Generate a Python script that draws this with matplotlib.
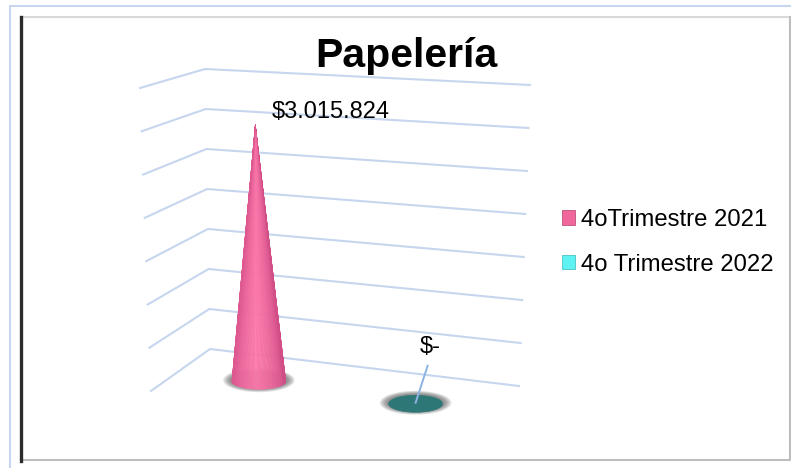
import numpy as np
import matplotlib
matplotlib.use("Agg")
import matplotlib.pyplot as plt
from matplotlib.patches import Ellipse, Polygon, Patch
from matplotlib.colors import to_rgb

# chart data
categories = ['4oTrimestre 2021', '4o Trimestre 2022']
values = [3015824, 0]
series_colors = ['#f0679b', '#5ef2f2']
title = 'Papelería'
y_ticks = np.arange(0, 3500001, 500000)
y_max = y_ticks[-1]

plt.rcParams['font.family'] = ['Liberation Sans', 'DejaVu Sans']

fig = plt.figure(figsize=(7.91, 4.68), dpi=100)
ax = fig.add_axes([0, 0, 1, 1])
ax.set_xlim(0, 791)
ax.set_ylim(468, 0)
ax.axis('off')

# screen corners of the 3-D plot box (b/f = back/front, l/r, b/t = bottom/top)
box = {
    'blb': (210, 349), 'brb': (519, 386), 'flb': (151, 391), 'frb': (469, 444),
    'blt': (205, 69), 'brt': (530, 85), 'flt': (140, 88), 'frt': (473, 112),
}


def bilerp(p00, p10, p01, p11, c, d):
    p00, p10, p01, p11 = map(np.array, (p00, p10, p01, p11))
    return (1 - c) * (1 - d) * p00 + c * (1 - d) * p10 + (1 - c) * d * p01 + c * d * p11


def proj(c, v, d):
    # c: along categories 0..1, v: value fraction 0..1, d: depth 0 (back) .. 1 (front)
    bot = bilerp(box['blb'], box['brb'], box['flb'], box['frb'], c, d)
    top = bilerp(box['blt'], box['brt'], box['flt'], box['frt'], c, d)
    return bot + v * (top - bot)


# frame around the chart
ax.plot([10, 10, 791], [468, 6, 6], color='#c5d6ee', lw=1.5, solid_capstyle='butt')
ax.plot([22, 790], [17, 17], color='#d9d9d9', lw=1.5)
ax.plot([790, 790, 21], [17, 460, 460], color='#bdbdbd', lw=1.5)
ax.plot([21, 21], [17, 461], color='#2b2b2b', lw=2.4)

# gridlines on the back and side walls
grid_color = '#c6d6ee'
for t in y_ticks:
    v = t / y_max
    p_l = proj(0, v, 1)
    p_c = proj(0, v, 0)
    p_r = proj(1, v, 0)
    ax.plot([p_l[0], p_c[0], p_r[0]], [p_l[1], p_c[1], p_r[1]],
            color=grid_color, lw=1.5, solid_joinstyle='miter', zorder=1)

n = len(categories)
rx, ry = 27, 8
light = np.array(to_rgb('#fc77aa'))
edge = np.array(to_rgb('#d14e86'))

for i, (val, col) in enumerate(zip(values, series_colors)):
    c = (i + 0.5) / n
    base = proj(c, 0, 0.5)
    tip = proj(c, val / y_max, 0.5)

    # soft shadow under the base
    for k in range(8):
        grow = 9 - k
        ax.add_patch(Ellipse((base[0], base[1] - 1), 2 * (rx + grow), 2 * (ry + grow * 0.45),
                             color='#3a3a3a', alpha=0.09, lw=0, zorder=2))

    if val > 0:
        th = np.linspace(0, np.pi, 90)
        xs = base[0] + rx * np.cos(th)
        ys = base[1] + ry * np.sin(th)
        for k in range(len(th) - 1):
            u = np.cos(0.5 * (th[k] + th[k + 1]))
            w = max(0.0, 1 - abs(u + 0.1)) ** 0.6
            rgb = edge + (light - edge) * w
            ax.add_patch(Polygon([tip, (xs[k], ys[k]), (xs[k + 1], ys[k + 1])],
                                 closed=True, fc=rgb, ec=rgb, lw=0.3, zorder=3))
        label = '$' + f'{val:,}'.replace(',', '.')
        ax.text(tip[0] + 75, tip[1] - 13, label, fontsize=17, ha='center', va='center', zorder=5)
    else:
        disc = np.array(to_rgb(col)) * 0.49
        ax.add_patch(Ellipse(base, 2 * rx, 2 * ry + 1, fc=disc, ec=disc, lw=0.5, zorder=3))
        lx, ly = base[0] + 15, base[1] - 57
        ax.plot([lx - 3, base[0]], [ly + 19, base[1] - 1], color='#8db3e2', lw=1.4, zorder=4)
        ax.text(lx, ly, '$-', fontsize=17, ha='center', va='center', zorder=5)

ax.text(406, 67, title, fontsize=29.5, fontweight='bold', ha='center', va='baseline')

handles = [Patch(fc=col, ec=np.array(to_rgb(col)) * 0.8, lw=0.6) for col in series_colors]
ax.legend(handles, categories, loc='upper left', bbox_to_anchor=(562, 209),
          bbox_transform=ax.transData, frameon=False, fontsize=17.2,
          handlelength=0.55, handleheight=0.55, handletextpad=0.25,
          labelspacing=0.95, borderpad=0, borderaxespad=0)

fig.savefig('out.png', dpi=100)
